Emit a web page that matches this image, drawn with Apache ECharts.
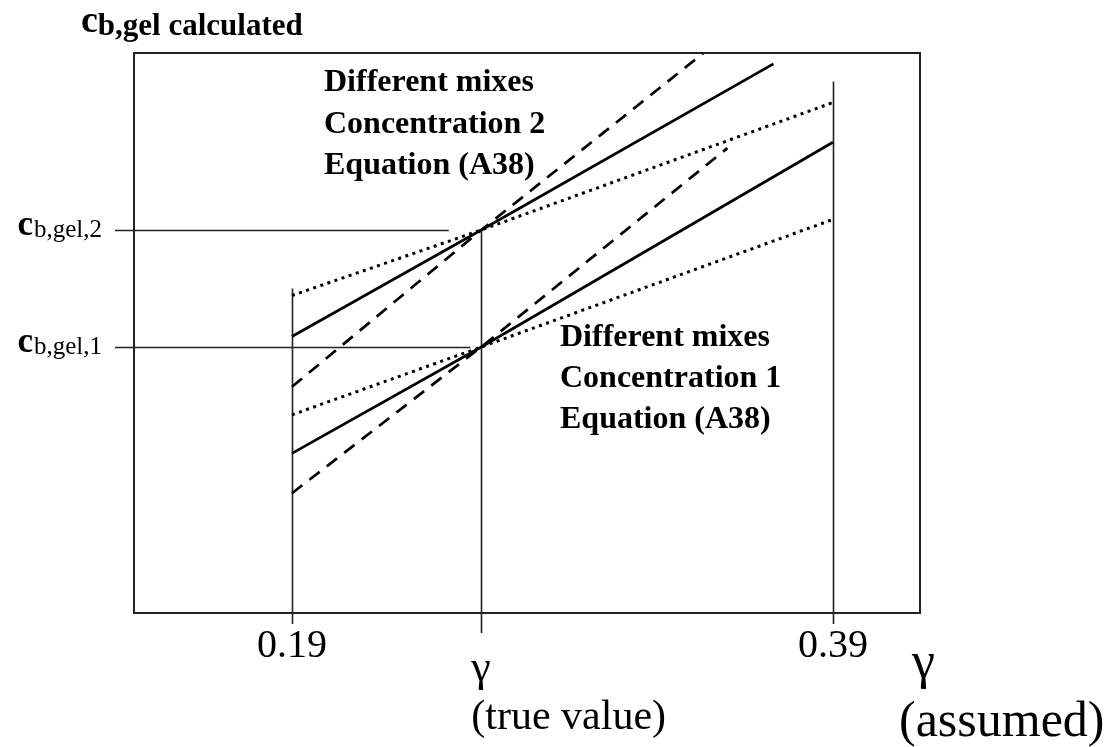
<!DOCTYPE html>
<html>
<head>
<meta charset="utf-8">
<title>c_b,gel calculated vs assumed gamma</title>
<script src="https://cdn.jsdelivr.net/npm/echarts@6/dist/echarts.min.js"></script>
<style>
  html, body { margin: 0; padding: 0; background: #fff; }
  #chart { width: 1108px; height: 747px; }
</style>
</head>
<body>
<div id="chart"></div>
<script>
// Assumed gamma values marked on the x axis, and the true gamma
const GAMMA_TICKS = [0.19, 0.39];
const GAMMA_TRUE = 0.26;

// Calculated gel concentrations at the true gamma (arbitrary units)
const C_LEVELS = [3, 4];
const C_LABELS = ['b,gel,1', 'b,gel,2'];

// Concentration 2 — three mixes, each a line through (GAMMA_TRUE, 4)
const conc2Solid  = [[0.19, 3.09], [0.26, 4], [0.368, 5.42]];
const conc2Dashed = [[0.19, 2.66], [0.26, 4], [0.342, 5.51]];
const conc2Dotted = [[0.19, 3.44], [0.26, 4], [0.39, 5.09]];

// Concentration 1 — three mixes, each a line through (GAMMA_TRUE, 3)
const conc1Solid  = [[0.19, 2.09], [0.26, 3], [0.39, 4.75]];
const conc1Dashed = [[0.19, 1.75], [0.26, 3], [0.351, 4.70]];
const conc1Dotted = [[0.19, 2.42], [0.26, 3], [0.39, 4.09]];

// Vertical guides: [gamma, top value]; horizontal guides: [c, gamma where they end]
const V_GUIDES = [[0.19, 3.50], [0.26, 4], [0.39, 5.27]];
const H_GUIDES = [[3, 0.256], [4, 0.248]];

// Axis extents
const X_MIN = 0.1316, X_MAX = 0.4222;
const Y_MIN = 0.726, Y_MAX = 5.513;

// Drawing styles
const SERIF = '"Liberation Serif", "Times New Roman", serif';
const TICK_EXT = [11, 20, 11];
const INK = '#000';
const GUIDE = '#222';

const chart = echarts.init(document.getElementById('chart'), null, { renderer: 'canvas' });

function mixLine(name, data, type, width) {
  return {
    name, type: 'line', data, symbol: 'none', silent: true,
    lineStyle: { color: INK, width, type },
    z: 3
  };
}

const option = {
  animation: false,
  backgroundColor: '#fff',
  grid: {
    left: 134, right: 188, top: 53, bottom: 134,
    show: true, borderColor: '#222', borderWidth: 2, backgroundColor: 'transparent'
  },
  xAxis: {
    type: 'value', min: X_MIN, max: X_MAX,
    axisLine: { show: false }, axisTick: { show: false }, splitLine: { show: false },
    axisLabel: {
      customValues: GAMMA_TICKS,
      formatter: v => v.toFixed(2),
      fontFamily: SERIF, fontSize: 40, color: INK, margin: 13
    }
  },
  yAxis: {
    type: 'value', min: Y_MIN, max: Y_MAX,
    axisLine: { show: false }, axisTick: { show: false }, splitLine: { show: false },
    axisLabel: {
      customValues: C_LEVELS,
      margin: 32,
      formatter: v => '{c|c}{s|' + C_LABELS[C_LEVELS.indexOf(v)] + '}',
      rich: {
        c: { fontFamily: SERIF, fontWeight: 'bold', fontSize: 35, color: INK, padding: [0, 1, 8, 0] },
        s: { fontFamily: SERIF, fontSize: 25, color: INK }
      }
    }
  },
  graphic: [
    {
      type: 'text', left: 81, top: 3,
      style: {
        text: '{c|c}{s|b,gel calculated}',
        rich: {
          c: { fontFamily: SERIF, fontWeight: 'bold', fontSize: 38, fill: INK, padding: [0, 0, 10, 0] },
          s: { fontFamily: SERIF, fontWeight: 'bold', fontSize: 31, fill: INK }
        }
      }
    },
    {
      type: 'text', left: 324, top: 62,
      style: {
        text: 'Different mixes\nConcentration 2\nEquation (A38)',
        font: 'bold 32px ' + SERIF, lineHeight: 41.5, fill: INK
      }
    },
    {
      type: 'text', left: 560, top: 317,
      style: {
        text: 'Different mixes\nConcentration 1\nEquation (A38)',
        font: 'bold 32px ' + SERIF, lineHeight: 41, fill: INK
      }
    },
    {
      type: 'text', left: 912, top: 638,
      style: { text: 'γ', font: '52px ' + SERIF, fill: INK }
    },
    {
      type: 'text', left: 899, top: 698,
      style: { text: '(assumed)', font: '50px ' + SERIF, fill: INK }
    }
  ],
  series: [
    mixLine('Concentration 2 solid', conc2Solid, 'solid', 2.7),
    mixLine('Concentration 2 dashed', conc2Dashed, [13, 9], 2.7),
    mixLine('Concentration 2 dotted', conc2Dotted, [3, 4.5], 3),
    mixLine('Concentration 1 solid', conc1Solid, 'solid', 2.7),
    mixLine('Concentration 1 dashed', conc1Dashed, [13, 9], 2.7),
    mixLine('Concentration 1 dotted', conc1Dotted, [3, 4.5], 3),
    {
      name: 'gamma guides', type: 'custom', silent: true, z: 2,
      data: V_GUIDES,
      renderItem(params, api) {
        const x = api.value(0), yTop = api.value(1);
        const top = api.coord([x, yTop]);
        const bottom = api.coord([x, Y_MIN]);
        const px = Math.round(top[0]) + 0.5;
        return {
          type: 'line',
          shape: { x1: px, y1: top[1], x2: px, y2: bottom[1] + TICK_EXT[params.dataIndex] },
          style: { stroke: GUIDE, lineWidth: 1.6 }
        };
      }
    },
    {
      name: 'concentration guides', type: 'custom', silent: true, z: 2,
      data: H_GUIDES,
      renderItem(params, api) {
        const c = api.value(0), xEnd = api.value(1);
        const start = api.coord([X_MIN, c]);
        const end = api.coord([xEnd, c]);
        const py = Math.round(start[1]) + 0.5;
        return {
          type: 'line',
          shape: { x1: start[0] - 19, y1: py, x2: end[0], y2: py },
          style: { stroke: GUIDE, lineWidth: 1.6 }
        };
      }
    },
    {
      name: 'true gamma label', type: 'custom', silent: true, z: 2,
      data: [[GAMMA_TRUE]],
      renderItem(params, api) {
        const p = api.coord([api.value(0), Y_MIN]);
        return {
          type: 'group',
          children: [
            { type: 'text', x: p[0] - 10, y: p[1] + 34, style: { text: 'γ', font: '44px ' + SERIF, fill: INK } },
            { type: 'text', x: p[0] - 10, y: p[1] + 84, style: { text: '(true value)', font: '42px ' + SERIF, fill: INK } }
          ]
        };
      }
    }
  ]
};

chart.setOption(option);
</script>
</body>
</html>
